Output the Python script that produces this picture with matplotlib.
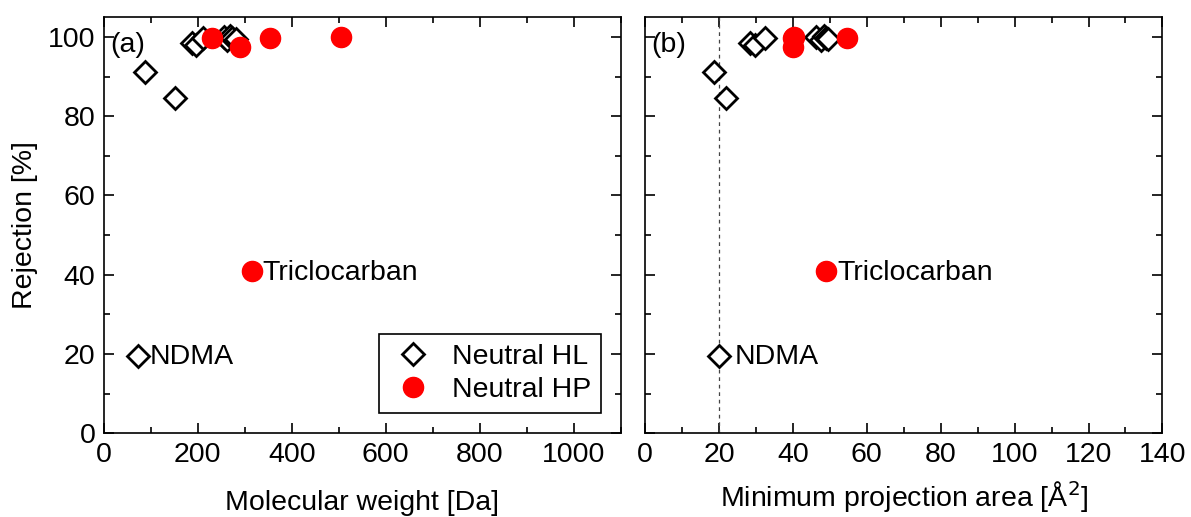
import matplotlib.pyplot as plt
from matplotlib.ticker import MultipleLocator

plt.rcParams['font.family'] = ['Liberation Sans', 'DejaVu Sans']
plt.rcParams['font.size'] = 20.5

# Neutral HL (hydrophilic) compounds
hl_mw = [74, 89, 151, 188, 196, 212, 256, 262, 268, 274, 281]
hl_area = [20, 18.7, 21.9, 28.5, 29.8, 32.5, 46.3, 47.5, 48.3, 49.0, 49.4]
hl_rej = [19.5, 91.2, 84.6, 98.5, 98.0, 99.8, 100.0, 99.2, 100.2, 99.6, 99.4]

# Neutral HP (hydrophobic) compounds
hp_mw = [230, 289, 353, 505, 315]
hp_area = [40.1, 40.0, 54.7, 40.3, 49.0]
hp_rej = [99.7, 97.5, 99.6, 100.0, 40.9]

fig, (ax1, ax2) = plt.subplots(1, 2, figsize=(11.91, 5.17), dpi=100)
fig.subplots_adjust(left=0.087, right=0.976, bottom=0.162, top=0.967, wspace=0.047)

hl_style = dict(linestyle='none', marker='D', markersize=11.5, markerfacecolor='white',
                markeredgecolor='black', markeredgewidth=2)
hp_style = dict(linestyle='none', marker='o', markersize=14.5, color='red')

# (a) molecular weight
ax1.plot(hl_mw, hl_rej, label='Neutral HL', **hl_style)
ax1.plot(hp_mw, hp_rej, label='Neutral HP', **hp_style)
ax1.annotate('NDMA', (hl_mw[0], hl_rej[0]), xytext=(8, -1), textcoords='offset points',
             va='center', ha='left')
ax1.annotate('Triclocarban', (hp_mw[4], hp_rej[4]), xytext=(8, -1), textcoords='offset points',
             va='center', ha='left')
ax1.text(0.012, 0.965, '(a)', transform=ax1.transAxes, va='top', ha='left')
ax1.set_xlim(0, 1100)
ax1.set_ylim(0, 105)
ax1.xaxis.set_major_locator(MultipleLocator(200))
ax1.xaxis.set_minor_locator(MultipleLocator(100))
ax1.set_xlabel('Molecular weight [Da]', labelpad=16)
ax1.set_ylabel('Rejection [%]', labelpad=7)
leg = ax1.legend(loc='lower right', fancybox=False, edgecolor='black', framealpha=1,
                 handletextpad=0.5, borderaxespad=0.7, labelspacing=0.25,
                 borderpad=0.35, handlelength=1.7)
leg.get_frame().set_linewidth(1.2)

# (b) minimum projection area
ax2.axvline(20, color='#444444', linestyle='--', linewidth=0.9, dashes=(3, 3))
ax2.plot(hl_area, hl_rej, **hl_style)
ax2.plot(hp_area, hp_rej, **hp_style)
ax2.annotate('NDMA', (hl_area[0], hl_rej[0]), xytext=(11, -1), textcoords='offset points',
             va='center', ha='left')
ax2.annotate('Triclocarban', (hp_area[4], hp_rej[4]), xytext=(8, -1), textcoords='offset points',
             va='center', ha='left')
ax2.text(0.012, 0.965, '(b)', transform=ax2.transAxes, va='top', ha='left')
ax2.set_xlim(0, 140)
ax2.set_ylim(0, 105)
ax2.xaxis.set_major_locator(MultipleLocator(20))
ax2.xaxis.set_minor_locator(MultipleLocator(10))
ax2.set_xlabel('Minimum projection area [Å$^2$]', labelpad=8)
ax2.tick_params(labelleft=False)

for ax in (ax1, ax2):
    ax.yaxis.set_major_locator(MultipleLocator(20))
    ax.yaxis.set_minor_locator(MultipleLocator(10))
    ax.tick_params(which='both', direction='in', top=True, right=True, width=1.2)
    ax.tick_params(which='major', length=7, pad=6)
    ax.tick_params(which='minor', length=4)
    for s in ax.spines.values():
        s.set_linewidth(1.2)

plt.savefig('out.png', dpi=100)
